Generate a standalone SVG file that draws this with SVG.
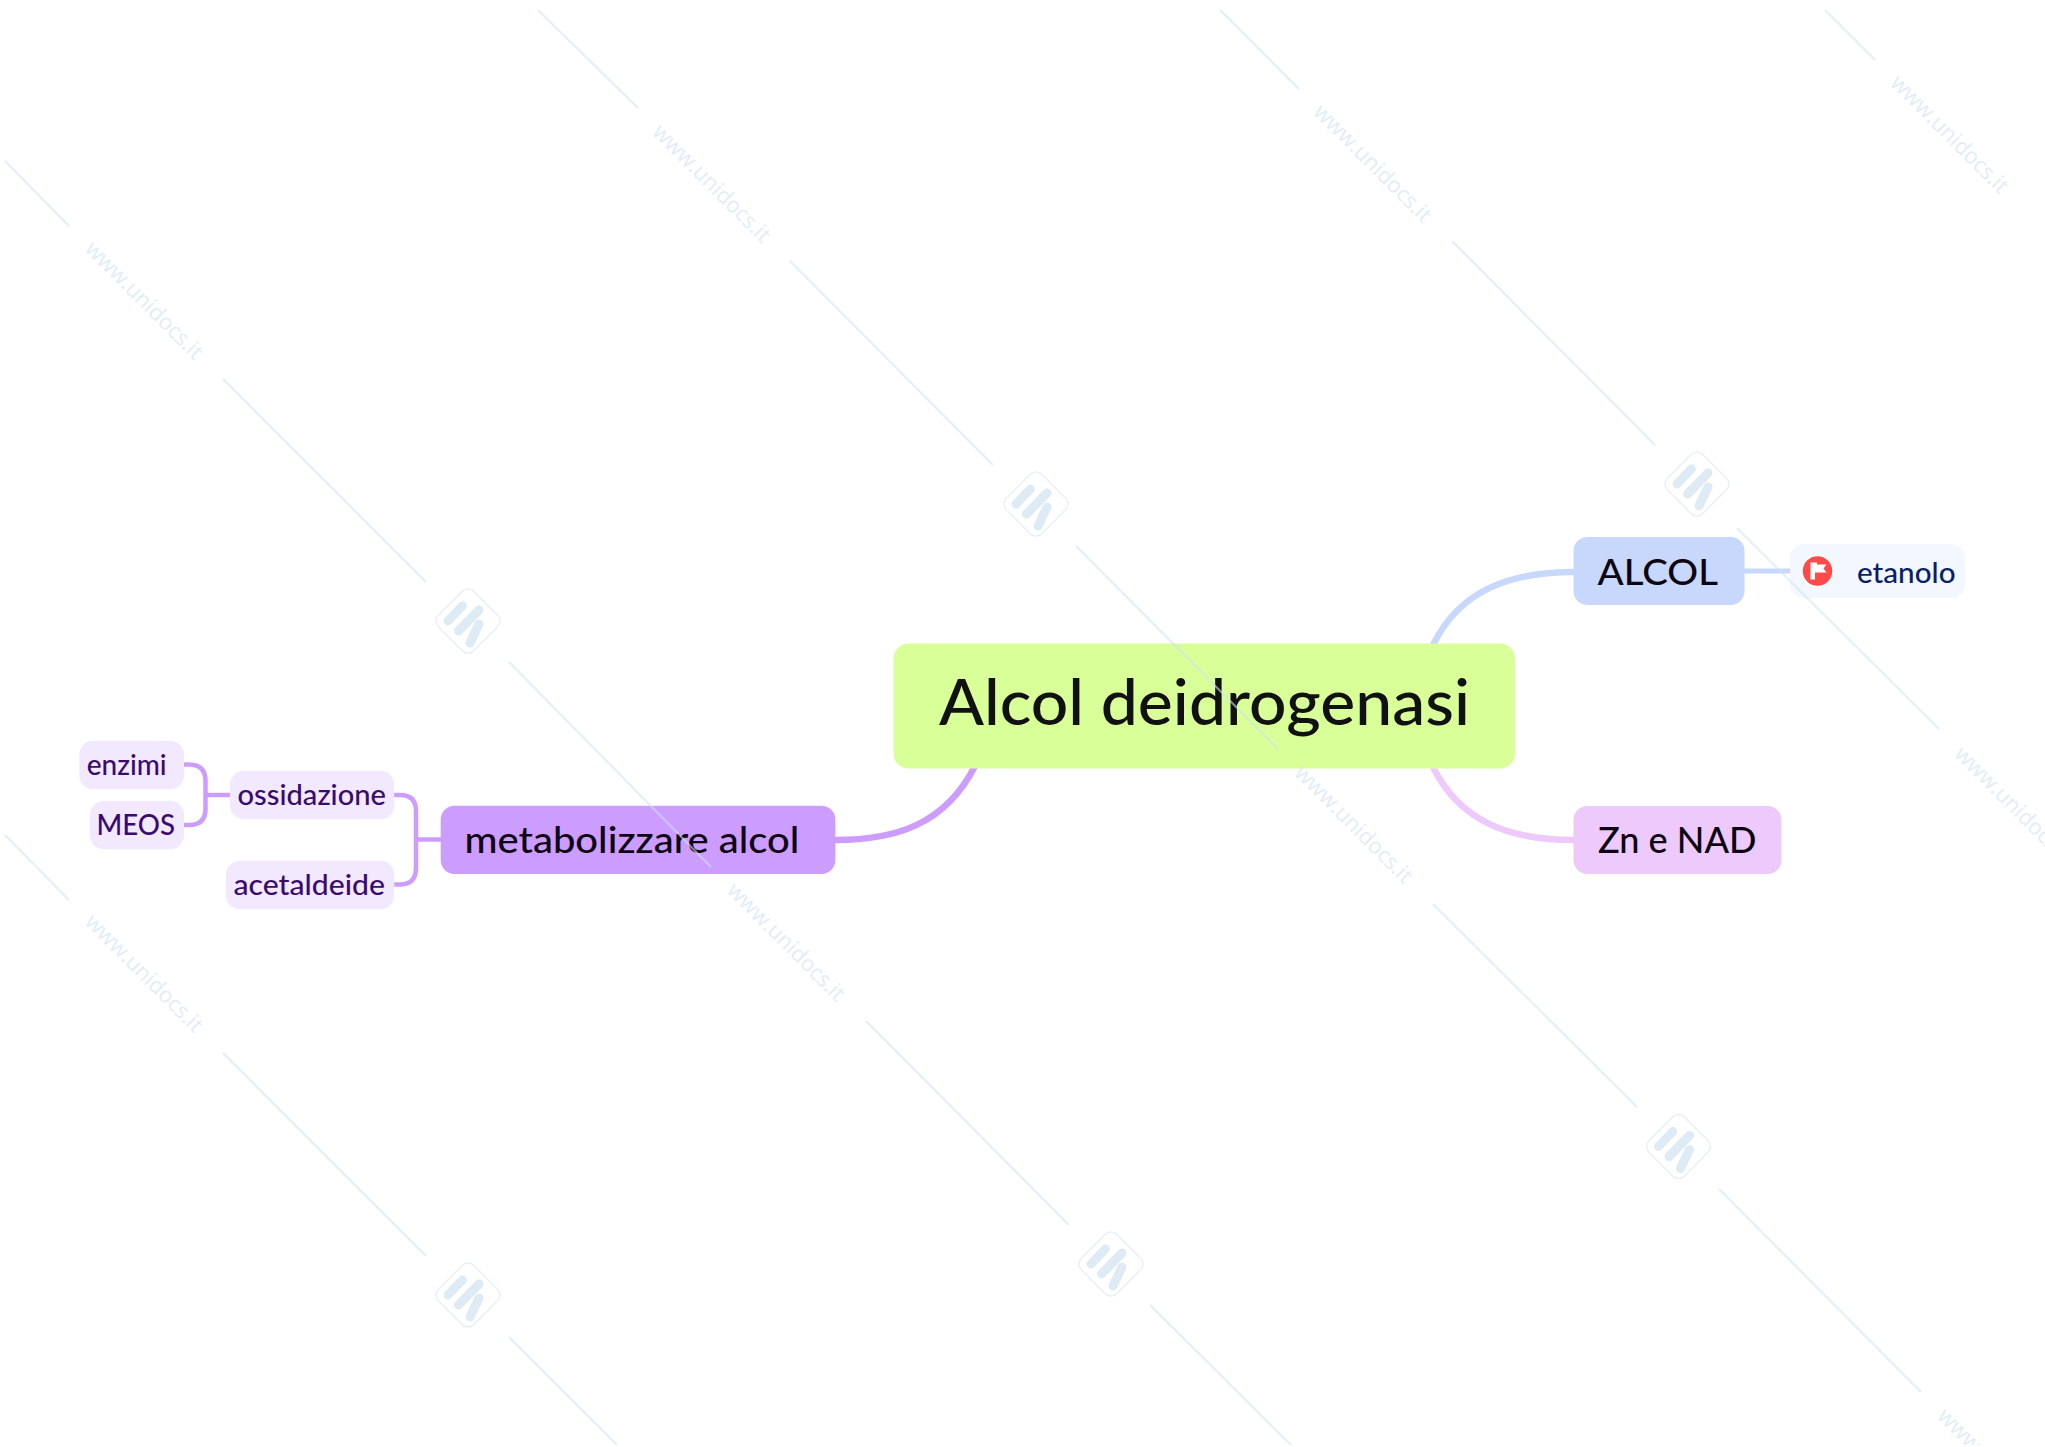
<svg xmlns="http://www.w3.org/2000/svg" width="2045" height="1447" viewBox="0 0 2045 1447">
<style>
.t{font-family:"Lato","Liberation Sans",sans-serif;font-weight:500}
.c{fill:none;stroke-linecap:butt}
.wl{stroke:#cfe2f3;stroke-width:2;opacity:.6;fill:none}
.wt{font-family:"Open Sans","Liberation Sans",sans-serif;font-size:22px;fill:#cfe2f3;opacity:.6;text-anchor:middle}
.sub{fill:#f3e9fe}
.subt{fill:#3a0b6e;font-size:29px}
.main{font-size:37px;fill:#0d0612}
</style>
<defs>
<clipPath id="page"><rect x="0" y="8" width="2045" height="1437"/></clipPath>
<g id="logo">
<rect x="-25" y="-25" width="50" height="50" rx="8" transform="rotate(45)" fill="none" stroke="#dfeaf5" stroke-width="1.3" opacity=".8"/>
<g fill="none" stroke="#c9deee" stroke-width="9" stroke-linecap="round" opacity=".6">
<path d="M-20,0L-5.7,-15"/>
<path d="M-9.5,10L11,-11"/>
<path d="M11,3L2,22"/>
</g>
</g>
<text id="wm" class="wt" dy=".35em" transform="rotate(45)">www.unidocs.it</text>
</defs>
<rect width="2045" height="1447" fill="#fff"/>
<g id="connectors">
<path class="c" d="M1433,645C1460,590 1510,572 1574,572" stroke="#c8d7fc" stroke-width="6.5"/>
<path class="c" d="M1433,767C1460,822 1510,840 1574,840" stroke="#eecafc" stroke-width="6.5"/>
<path class="c" d="M835,840C895,840 945,825 975,766" stroke="#cd9cff" stroke-width="6.5"/>
<path class="c" d="M1744,571H1792" stroke="#c8d7fc" stroke-width="5"/>
<path class="c" d="M441,839.5H416" stroke="#cd9cff" stroke-width="4.5"/>
<path class="c" d="M394,795H400Q416,795 416,811V868Q416,884.5 400,884.5H394" stroke="#cd9cff" stroke-width="4.5"/>
<path class="c" d="M230,795H205.5" stroke="#cd9cff" stroke-width="4.5"/>
<path class="c" d="M183,764.5H189Q205.5,764.5 205.5,781V809Q205.5,825 189,825H183" stroke="#cd9cff" stroke-width="4.5"/>
</g>
<g id="root">
<rect x="893.5" y="643.5" width="621.5" height="125" rx="15" fill="#d8ff98"/>
<text class="t" x="939" y="725" font-size="64" fill="#111" textLength="531" lengthAdjust="spacingAndGlyphs">Alcol deidrogenasi</text>
</g>
<g id="alcol">
<rect x="1573.5" y="537" width="171" height="68" rx="14" fill="#c8d7fc"/>
<text class="t main" x="1597.5" y="585" textLength="120.5" lengthAdjust="spacingAndGlyphs">ALCOL</text>
</g>
<g id="etanolo">
<rect x="1790" y="544" width="175" height="54" rx="14" fill="#f3f7ff"/>
<circle cx="1817.5" cy="571" r="15.5" fill="#ff4a4a" stroke="#fff" stroke-width="1.5"/>
<path d="M1810.5,562.5H1817V564.5H1826.5L1823.5,568.5L1826.5,572.5H1815V579.5H1810.5Z" fill="#fff"/>
<text class="t" x="1857" y="582.7" font-size="29" fill="#0a1f66" textLength="98.5" lengthAdjust="spacingAndGlyphs">etanolo</text>
</g>
<g id="zn">
<rect x="1573.5" y="806" width="208" height="68" rx="14" fill="#eecafc"/>
<text class="t main" x="1598" y="852.7" textLength="158.5" lengthAdjust="spacingAndGlyphs">Zn e NAD</text>
</g>
<g id="metabolizzare">
<rect x="440.7" y="805.7" width="394.7" height="68.3" rx="14" fill="#cd9cff"/>
<text class="t main" x="464.4" y="852.8" textLength="335" lengthAdjust="spacingAndGlyphs">metabolizzare alcol</text>
</g>
<g id="ossidazione">
<rect class="sub" x="230" y="770.7" width="164.3" height="48.6" rx="14"/>
<text class="t subt" x="237.5" y="805.3" textLength="148.5" lengthAdjust="spacingAndGlyphs">ossidazione</text>
</g>
<g id="acetaldeide">
<rect class="sub" x="226" y="860.7" width="168.3" height="48.6" rx="14"/>
<text class="t subt" x="233.5" y="895.3" textLength="151.5" lengthAdjust="spacingAndGlyphs">acetaldeide</text>
</g>
<g id="enzimi">
<rect class="sub" x="79.3" y="740.7" width="104.7" height="48.6" rx="14"/>
<text class="t subt" x="86.7" y="775.3" textLength="80" lengthAdjust="spacingAndGlyphs">enzimi</text>
</g>
<g id="meos">
<rect class="sub" x="90" y="800.7" width="94" height="48.6" rx="14"/>
<text class="t subt" x="96.5" y="835.3" textLength="78.5" lengthAdjust="spacingAndGlyphs">MEOS</text>
</g>
<g id="watermark" clip-path="url(#page)">
<path class="wl" d="M5,161L69,226M223,379L426,582M509,662L711,867M866,1021L1069,1225M1150,1305L1291,1445M538,10L638,108M790,261L993,465M1076,546L1278,749M1433,904L1637,1107M1719,1189L1921,1392M1220,10L1299,89M1452,241L1655,445M1737,528L1939,729M1825,10L1875,60M5,835L69,900M223,1053L426,1256M509,1337L617,1445"/>
<use href="#wm" transform="translate(144.5,300)"/>
<use href="#wm" transform="translate(786.4,941.6)"/>
<use href="#wm" transform="translate(712,183)"/>
<use href="#wm" transform="translate(1354,824)"/>
<use href="#wm" transform="translate(1373,163)"/>
<use href="#wm" transform="translate(1950,134)"/>
<use href="#wm" transform="translate(144.5,973)"/>
<use href="#wm" transform="translate(2014,805)"/>
<use href="#wm" transform="translate(1997,1467)"/>
<use href="#logo" transform="translate(468,621)"/>
<use href="#logo" transform="translate(1111,1264)"/>
<use href="#logo" transform="translate(1036,504)"/>
<use href="#logo" transform="translate(1678.5,1146.5)"/>
<use href="#logo" transform="translate(1697,484)"/>
<use href="#logo" transform="translate(468,1295)"/>
</g>
</svg>
